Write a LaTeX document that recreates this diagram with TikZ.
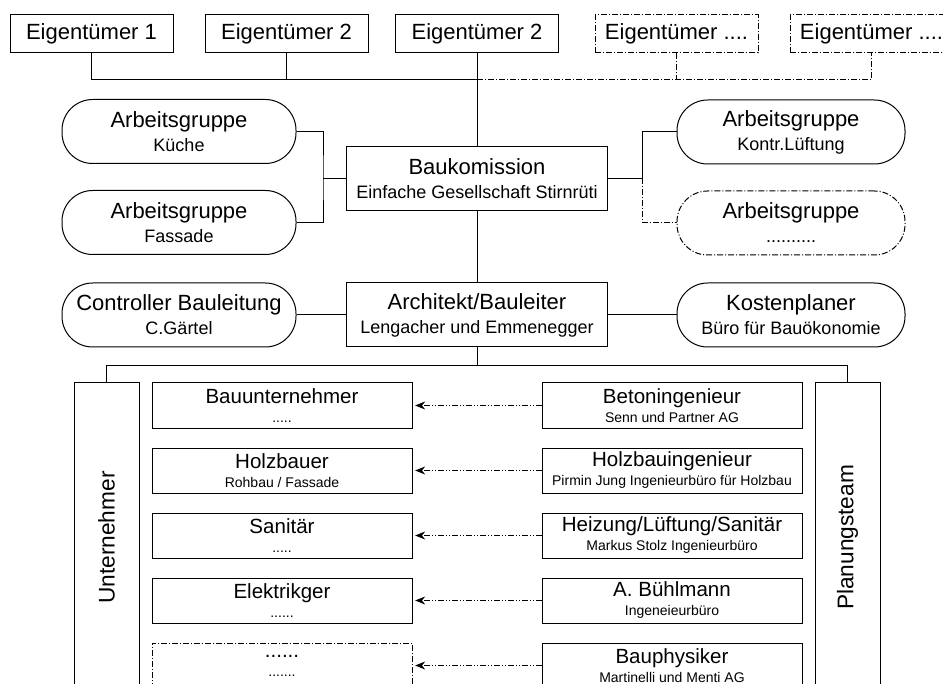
\documentclass[tikz,border=0pt]{standalone}
\usepackage{fontspec}
\setmainfont{Liberation Sans}
\usepackage{graphicx}
\usetikzlibrary{arrows.meta}

\tikzset{every picture/.style={line width=0.75pt}}
\tikzset{
  ownerbox/.style={draw, inner sep=0pt, minimum width=122.25pt, minimum height=28.5pt, font=\fontsize{16.5}{18}\selectfont},
  mainbox/.style={draw, inner sep=0pt, align=center, minimum width=195.75pt, minimum height=48pt, font=\fontsize{16.5}{18}\selectfont},
  groupbox/.style={draw, rounded corners=23pt, inner sep=0pt, align=center, minimum width=175.5pt, minimum height=48pt, font=\fontsize{16.5}{18}\selectfont},
  firmbox/.style={draw, inner sep=0pt, align=center, minimum width=195pt, minimum height=33.75pt, font=\fontsize{15.4}{14.25}\selectfont},
  sidebox/.style={draw, inner sep=0pt, minimum width=48.75pt, minimum height=231.75pt, font=\fontsize{17}{18}\selectfont},
  dashdot/.style={dash pattern=on 4.5pt off 1.5pt on 0.75pt off 1.5pt},
  orderline/.style={dash pattern=on 4.5pt off 1.5pt on 0.75pt off 1.5pt on 0.75pt off 1.5pt, shorten >=2pt, -{Stealth[length=7.5pt,width=6pt]}},
}
\newcommand{\subline}[1]{{\fontsize{13.5}{18}\selectfont #1}}
\newcommand{\firmline}[1]{{\fontsize{10.5}{14.25}\selectfont #1}}

\begin{document}
\begin{tikzpicture}[x=0.75pt,y=0.75pt,yscale=-1,xscale=1]
    \useasboundingbox (0,0) rectangle (943,684);
    \clip (0,0) rectangle (943,684);

    %Shape: Rectangle [Eigentuemer]
    \node[ownerbox] (own1) at (91.5,34) {Eigentümer 1};
    \node[ownerbox] (own2) at (286.5,34) {Eigentümer 2};
    \node[ownerbox] (own3) at (477,34) {Eigentümer 2};
    \node[ownerbox, dashdot] (own4) at (676.5,34) {Eigentümer ....};
    \node[ownerbox, dashdot] (own5) at (871.5,34) {Eigentümer ....};

    %Shape: Rectangle [Baukomission]
    \node[mainbox] (kom) at (477,178.5) {Baukomission\\\subline{Einfache Gesellschaft Stirnrüti}};
    %Shape: Rounded Rect [Arbeitsgruppen]
    \node[groupbox] (agK) at (179,131.5) {Arbeitsgruppe\\\subline{Küche}};
    \node[groupbox] (agF) at (179,222.5) {Arbeitsgruppe\\\subline{Fassade}};
    \node[groupbox, minimum width=171pt] (agL) at (791,132) {Arbeitsgruppe\\\subline{Kontr.Lüftung}};
    \node[groupbox, minimum width=171pt, dashdot] (agX) at (791,223) {Arbeitsgruppe\\\subline{..........}};

    %Shape: Rectangle [Architekt]
    \node[mainbox] (arch) at (477,315) {Architekt/Bauleiter\\\subline{Lengacher und Emmenegger}};
    %Shape: Rounded Rect [Controller, Kostenplaner]
    \node[groupbox] (ctrl) at (179,315) {Controller Bauleitung\\\subline{C.Gärtel}};
    \node[groupbox, minimum width=171pt] (kost) at (791,315) {Kostenplaner\\\subline{Büro für Bauökonomie}};

    %Shape: Rectangle [Unternehmer, Planungsteam]
    \node[sidebox] (unt) at (106.5,537.5) {\rotatebox{90}{Unternehmer}};
    \node[sidebox] (plan) at (847.5,537.5) {\rotatebox{90}{Planungsteam}};

    %Shape: Rectangle [Unternehmer column]
    \node[firmbox] (bau) at (282,405.5) {Bauunternehmer\\\firmline{.....}};
    \node[firmbox] (holz) at (282,470.5) {Holzbauer\\\firmline{Rohbau / Fassade}};
    \node[firmbox] (sani) at (282,535.5) {Sanitär\\\firmline{.....}};
    \node[firmbox] (elek) at (282,600.5) {Elektrikger\\\firmline{......}};
    \node[firmbox, dashdot] (more) at (282,665.5) {......\\\firmline{.......}};

    %Shape: Rectangle [Planungsteam column]
    \node[firmbox] (beton) at (672,405.5) {Betoningenieur\\\firmline{Senn und Partner AG}};
    \node[firmbox] (holzing) at (672,470.5) {Holzbauingenieur\\\firmline{Pirmin Jung Ingenieurbüro für Holzbau}};
    \node[firmbox] (hls) at (672,535.5) {Heizung/Lüftung/Sanitär\\\firmline{Markus Stolz Ingenieurbüro}};
    \node[firmbox] (buehl) at (672,600.5) {A. Bühlmann\\\firmline{Ingeneieurbüro}};
    \node[firmbox] (physik) at (672,665.5) {Bauphysiker\\\firmline{Martinelli und Menti AG}};

    %Straight Lines [Eigentuemer bus]
    \coordinate (ownbus) at (477,80);
    \draw (own1.south) |- (ownbus);
    \draw (own2.south) -- (own2.south |- ownbus);
    \draw (own3.south) -- (kom.north);
    \draw [dashdot] (ownbus) -| (own5.south);
    \draw [dashdot] (own4.south) -- (own4.south |- ownbus);

    %Straight Lines [Arbeitsgruppen]
    \coordinate (kleft) at (323,178.5);
    \coordinate (kright) at (642,178.5);
    \draw (agK.east) -| (kleft) |- (agF.east);
    \draw (kleft) -- (kom.west);
    \draw (kom.east) -- (kright) |- (agL.west);
    \draw [dashdot] (kright) |- (agX.west);

    %Straight Lines [Bauleitung]
    \draw (kom.south) -- (arch.north);
    \draw (ctrl.east) -- (arch.west);
    \draw (arch.east) -- (kost.west);
    \coordinate (teambus) at (477,365.5);
    \draw (arch.south) -- (teambus);
    \draw (unt.north) |- (teambus) -| (plan.north);

    %Straight Lines [Auftraege]
    \draw [orderline] (beton) -- (bau);
    \draw [orderline] (holzing) -- (holz);
    \draw [orderline] (hls) -- (sani);
    \draw [orderline] (buehl) -- (elek);
    \draw [orderline] (physik) -- (more);
\end{tikzpicture}
\end{document}
